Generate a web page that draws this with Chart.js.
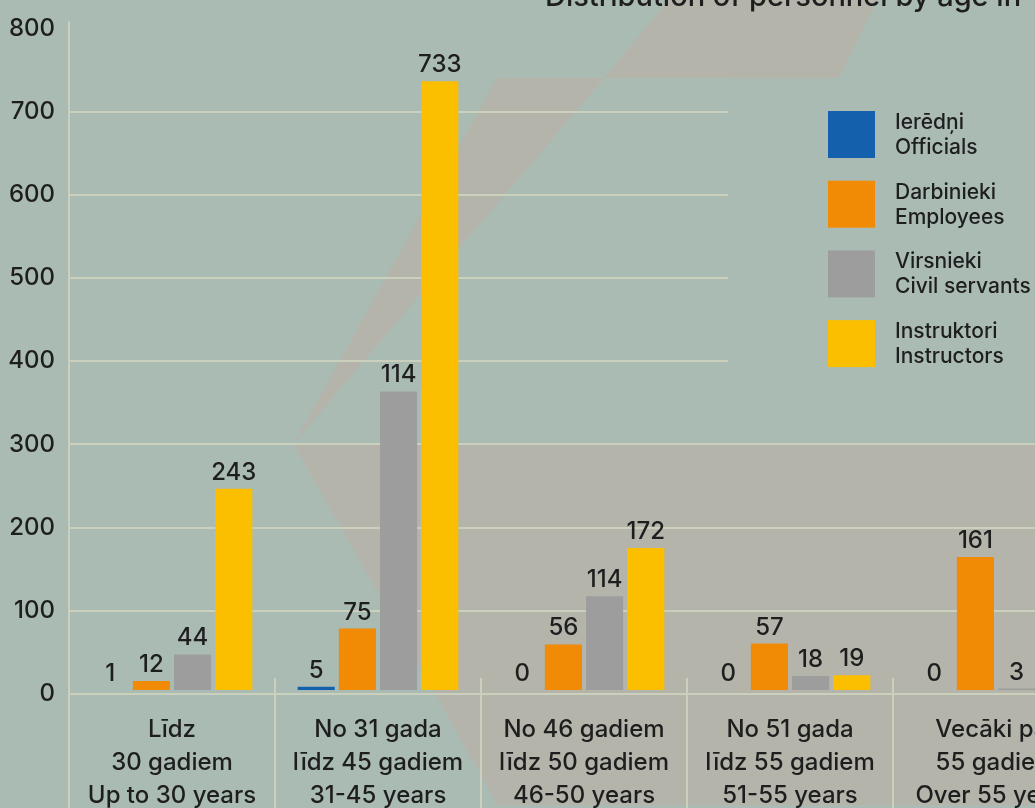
<!DOCTYPE html>
<html lang="lv">
<head>
<meta charset="utf-8">
<title>Personāla sadalījums pēc vecuma</title>
<script src="https://cdn.jsdelivr.net/npm/chart.js@4.4.1/dist/chart.umd.min.js"></script>
<style>
  html, body { margin: 0; padding: 0; overflow: hidden; background: #aabbb3; }
  #wrap { width: 1100px; height: 808px; }
</style>
</head>
<body>
<div id="wrap"><canvas id="chart" width="1100" height="808"></canvas></div>
<script>
// categories (multi-line labels)
var categories = [
  ["Līdz", "30 gadiem", "Up to 30 years"],
  ["No 31 gada", "līdz 45 gadiem", "31-45 years"],
  ["No 46 gadiem", "līdz 50 gadiem", "46-50 years"],
  ["No 51 gada", "līdz 55 gadiem", "51-55 years"],
  ["Vecāki par", "55 gadiem", "Over 55 years"]
];
var seriesNames = [
  ["Ierēdņi", "Officials"],
  ["Darbinieki", "Employees"],
  ["Virsnieki", "Civil servants"],
  ["Instruktori", "Instructors"]
];
// bar heights as drawn
var officials   = [1, 5, 0, 0, 0];
var employees   = [12, 75, 56, 57, 161];
var civil       = [44, 360, 114, 18, 3];
var instructors = [243, 733, 172, 19, 25];
// printed value labels (civil servants 31-45 is printed as 114)
var officialsLbl   = ["1", "5", "0", "0", "0"];
var employeesLbl   = ["12", "75", "56", "57", "161"];
var civilLbl       = ["44", "114", "114", "18", "3"];
var instructorsLbl = ["243", "733", "172", "19", "25"];
var yTicks = [0, 100, 200, 300, 400, 500, 600, 700, 800];

var BG = '#aabbb3';
var SHAPE = '#b4b4ab';
var GRID = '#cbd0bd';
var TXT = '#1e1e1e';
var colors = ['#1560ad', '#f18a05', '#9d9d9d', '#fbbf00'];
var LIFT = 3; // bars sit a little above the zero line in the original

Chart.defaults.font.family = 'Inter, "Open Sans", sans-serif';
Chart.defaults.font.weight = 500;
Chart.defaults.color = TXT;

function poly(c, pts) {
  c.beginPath();
  c.moveTo(pts[0][0], pts[0][1]);
  for (var i = 1; i < pts.length; i++) c.lineTo(pts[i][0], pts[i][1]);
  c.closePath();
  c.fill();
}

var decor = {
  id: 'decor',
  beforeDraw: function (chart) {
    var c = chart.ctx;
    c.save();
    c.fillStyle = BG;
    c.fillRect(0, 0, chart.width, chart.height);
    c.fillStyle = SHAPE;
    poly(c, [[294, 443], [497, 78], [604, 78]]);
    poly(c, [[604, 78], [839, 78], [877, 0], [669, 0]]);
    poly(c, [[293, 443], [1100, 443], [1100, 805], [498, 805]]);
    c.restore();
  },
  beforeDatasetsDraw: function (chart) {
    var c = chart.ctx, xs = chart.scales.x, ys = chart.scales.y;
    var zero = ys.getPixelForValue(0);
    c.save();
    // legend panel hides upper grid lines
    c.fillStyle = BG;
    c.fillRect(728, ys.getPixelForValue(740), 400, ys.getPixelForValue(330) - ys.getPixelForValue(740));
    c.strokeStyle = GRID;
    c.lineWidth = 2;
    // y axis line
    c.beginPath();
    c.moveTo(xs.left, ys.top - 7);
    c.lineTo(xs.left, chart.height);
    c.stroke();
    // category separators
    for (var i = 0; i < categories.length - 1; i++) {
      var bx = (xs.getPixelForValue(i) + xs.getPixelForValue(i + 1)) / 2;
      c.beginPath();
      c.moveTo(bx, zero - 16);
      c.lineTo(bx, chart.height);
      c.stroke();
    }
    c.restore();
    c.save();
    c.translate(0, -LIFT);
  },
  afterDatasetsDraw: function (chart) {
    var c = chart.ctx;
    c.restore();
    c.save();
    c.fillStyle = TXT;
    c.font = '500 24px Inter';
    c.textAlign = 'center';
    c.textBaseline = 'alphabetic';
    chart.data.datasets.forEach(function (ds, di) {
      chart.getDatasetMeta(di).data.forEach(function (bar, i) {
        c.fillText(ds.valueLabels[i], bar.x, bar.y - LIFT - 9);
      });
    });
    // legend
    chart.data.datasets.forEach(function (ds, di) {
      var top = 111 + di * 69.7;
      c.fillStyle = ds.backgroundColor;
      c.fillRect(828, top, 47, 47);
      c.fillStyle = TXT;
      c.font = '500 21px Inter';
      c.textAlign = 'left';
      c.fillText(ds.label[0], 895, top + 18);
      c.fillText(ds.label[1], 895, top + 43);
    });
    // title (cut at top of the picture)
    c.font = '500 29px Inter';
    c.fillText('Distribution of personnel by age in', 545, 6);
    c.restore();
  }
};

function ds(name, data, lbl, col) {
  return {
    label: name,
    data: data,
    valueLabels: lbl,
    backgroundColor: col,
    borderWidth: 0,
    minBarLength: 1
  };
}

new Chart(document.getElementById('chart'), {
  type: 'bar',
  data: {
    labels: categories,
    datasets: [
      ds(seriesNames[0], officials, officialsLbl, colors[0]),
      ds(seriesNames[1], employees, employeesLbl, colors[1]),
      ds(seriesNames[2], civil, civilLbl, colors[2]),
      ds(seriesNames[3], instructors, instructorsLbl, colors[3])
    ]
  },
  options: {
    responsive: false,
    animation: false,
    devicePixelRatio: 1,
    layout: { padding: { top: 27, right: 1, left: 0, bottom: 0 } },
    plugins: {
      legend: { display: false },
      tooltip: { enabled: false }
    },
    scales: {
      x: {
        grid: { display: false },
        border: { display: false },
        ticks: {
          color: TXT,
          font: { size: 24, weight: 500, lineHeight: 1.375 },
          padding: 11,
          maxRotation: 0,
          autoSkip: false
        },
        afterFit: function (s) { s.height = 114; }
      },
      y: {
        min: 0,
        max: 800,
        afterBuildTicks: function (s) {
          s.ticks = yTicks.map(function (v) { return { value: v }; });
        },
        grid: {
          drawTicks: false,
          lineWidth: 2,
          color: function (ctx) { return ctx.tick && ctx.tick.value === 800 ? 'rgba(0,0,0,0)' : GRID; }
        },
        border: { display: false },
        ticks: {
          color: TXT,
          font: { size: 24, weight: 500 },
          padding: 14
        },
        afterFit: function (s) { s.width = 69; }
      }
    }
  },
  plugins: [decor]
});
</script>
</body>
</html>
